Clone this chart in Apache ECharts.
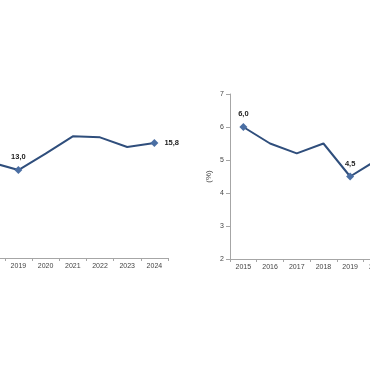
<!DOCTYPE html>
<html>
<head>
<meta charset="utf-8">
<script src="https://cdn.jsdelivr.net/npm/echarts@6/dist/echarts.min.js"></script>
<style>
html,body{margin:0;padding:0;background:#fff;}
#c{width:370px;height:380px;}
</style>
</head>
<body>
<div id="c"></div>
<script>
// Left panel (partially visible)
var leftYears = ['2018','2019','2020','2021','2022','2023','2024'];
var leftValues = [13.8, 13.0, 14.7, 16.5, 16.4, 15.4, 15.8];
var leftLabeled = ['2019','2024'];

// Right panel (partially visible)
var rightYears = ['2015','2016','2017','2018','2019','2020'];
var rightValues = [6.0, 5.5, 5.2, 5.5, 4.5, 5.0];
var rightLabeled = ['2015','2019'];
var rightYMin = 2, rightYMax = 7, rightYStep = 1;
var rightYName = '(%)';

var lineColor = '#2f4e7c';
var markColor = '#4a6ea3';
var textColor = '#444';
var axisColor = '#a6a6a6';
var font = 'Liberation Sans, Arial, sans-serif';

function fmt(v){ return v.toFixed(1).replace('.', ','); }

function buildData(years, values, labeled, sidePos){
  return values.map(function(v, i){
    var on = labeled.indexOf(years[i]) >= 0;
    var pos = (on && sidePos && sidePos[years[i]]) ? sidePos[years[i]] : 'top';
    return {
      value: v,
      symbol: on ? 'diamond' : 'none',
      symbolSize: 8,
      label: {
        show: on, position: pos, distance: pos === 'right' ? 6 : 5,
        formatter: function(p){ return fmt(p.value); },
        fontSize: 7.5, fontWeight: 'bold', color: '#222', fontFamily: font
      }
    };
  });
}

var chart = echarts.init(document.getElementById('c'), null, {renderer: 'canvas'});
chart.setOption({
  animation: false,
  backgroundColor: '#fff',
  grid: [
    {left: -22.4, width: 190.4, top: 94, height: 164, outerBoundsMode: 'none', containLabel: false},
    {left: 230, width: 160.2, top: 94, height: 165, outerBoundsMode: 'none', containLabel: false}
  ],
  xAxis: [
    {
      type: 'category', gridIndex: 0, data: leftYears, boundaryGap: true,
      axisLine: {lineStyle: {color: axisColor, width: 1}},
      axisTick: {show: true, length: 3, lineStyle: {color: axisColor}},
      axisLabel: {color: textColor, fontSize: 7, fontFamily: font, margin: 5}
    },
    {
      type: 'category', gridIndex: 1, data: rightYears, boundaryGap: true,
      axisLine: {lineStyle: {color: axisColor, width: 1}},
      axisTick: {show: true, length: 3, lineStyle: {color: axisColor}},
      axisLabel: {color: textColor, fontSize: 7, fontFamily: font, margin: 5}
    }
  ],
  yAxis: [
    {
      type: 'value', gridIndex: 0, min: 3.87, max: 20.9,
      axisLine: {show: false}, axisTick: {show: false},
      axisLabel: {show: false}, splitLine: {show: false}
    },
    {
      type: 'value', gridIndex: 1, min: rightYMin, max: rightYMax, interval: rightYStep,
      name: rightYName, nameLocation: 'middle', nameGap: 17, nameRotate: 90,
      nameTextStyle: {color: textColor, fontSize: 8, fontFamily: font},
      axisLine: {show: true, lineStyle: {color: axisColor, width: 1}},
      axisTick: {show: true, length: 4, lineStyle: {color: axisColor}},
      axisLabel: {color: textColor, fontSize: 7, fontFamily: font, margin: 6},
      splitLine: {show: false}
    }
  ],
  series: [
    {
      type: 'line', xAxisIndex: 0, yAxisIndex: 0,
      data: buildData(leftYears, leftValues, leftLabeled, {'2024': 'right'}),
      lineStyle: {color: lineColor, width: 2},
      itemStyle: {color: markColor},
      showSymbol: true, clip: true
    },
    {
      type: 'line', xAxisIndex: 1, yAxisIndex: 1,
      data: buildData(rightYears, rightValues, rightLabeled, null),
      lineStyle: {color: lineColor, width: 2},
      itemStyle: {color: markColor},
      showSymbol: true, clip: true
    }
  ]
});
</script>
</body>
</html>
